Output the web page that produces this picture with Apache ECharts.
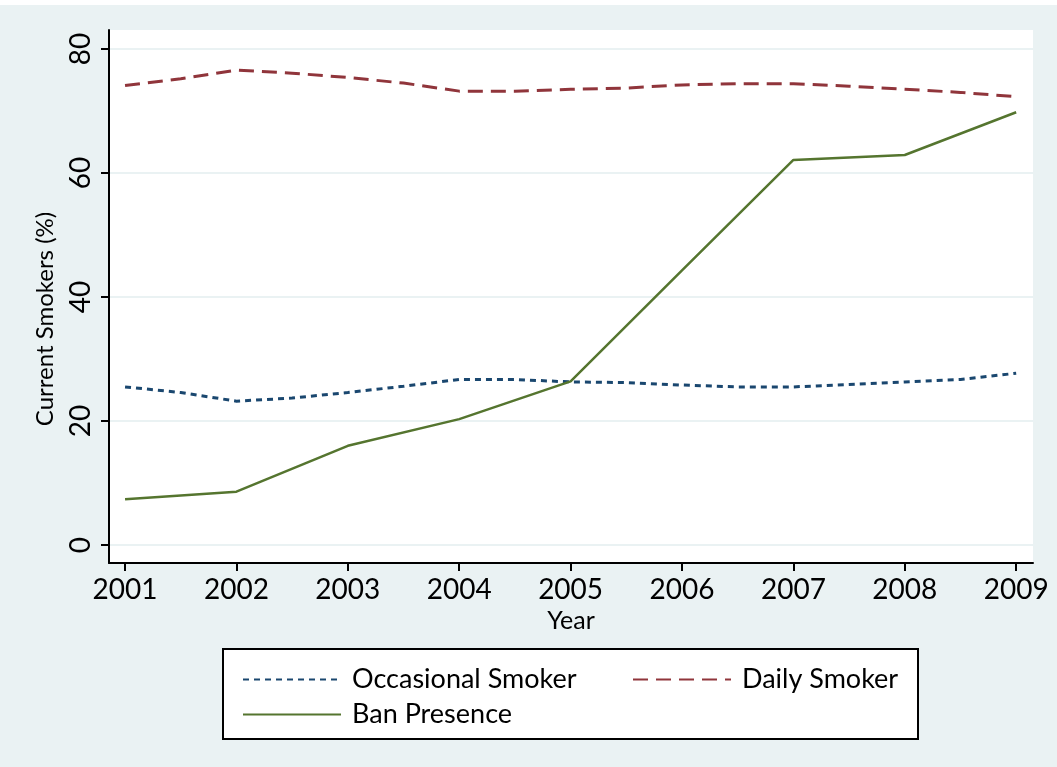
<!DOCTYPE html>
<html>
<head>
<meta charset="utf-8">
<script src="https://cdn.jsdelivr.net/npm/echarts@6/dist/echarts.min.js"></script>
<style>
  html, body { margin: 0; padding: 0; background: #EAF2F3; }
  #grafica { width: 1057px; height: 767px; }
</style>
</head>
<body>
<div id="grafica"></div>
<script>
// Datos
const years = [2001, 2002, 2003, 2004, 2005, 2006, 2007, 2008, 2009];
const halfYears = [2001, 2001.5, 2002, 2002.5, 2003, 2003.5, 2004, 2004.5, 2005,
    2005.5, 2006, 2006.5, 2007, 2007.5, 2008, 2008.5, 2009];

const occasionalSmoker = [25.5, 24.6, 23.2, 23.7, 24.6, 25.6, 26.7, 26.7, 26.3,
    26.2, 25.8, 25.5, 25.5, 25.9, 26.3, 26.7, 27.7];
const dailySmoker = [74.1, 75.2, 76.6, 76.1, 75.4, 74.5, 73.2, 73.2, 73.5,
    73.7, 74.2, 74.4, 74.4, 74.0, 73.5, 73.0, 72.3];
const banPresence = [7.4, 8.6, 16.0, 20.3, 26.4, 44.3, 62.1, 62.9, 69.8];

const yTicks = [0, 20, 40, 60, 80];

const chart = echarts.init(document.getElementById('grafica'));

const fuente = 'Lato';
const toPairs = (xs, ys) => xs.map((x, i) => [x, ys[i]]);

let option = {
    backgroundColor: '#EAF2F3',
    animation: false,
    grid: {
        left: 109,
        right: 24,
        top: 30,
        bottom: 204,
        show: true,
        backgroundColor: '#ffffff',
        borderWidth: 0
    },
    xAxis: {
        type: 'value',
        min: 2000.856,
        max: 2009.151,
        name: 'Year',
        nameLocation: 'middle',
        nameGap: 43,
        nameTextStyle: { fontFamily: fuente, fontSize: 25, color: '#000' },
        axisLine: { onZero: false, lineStyle: { color: '#000', width: 2 } },
        axisTick: { customValues: years, length: 8, lineStyle: { color: '#000', width: 2 } },
        axisLabel: {
            customValues: years,
            formatter: v => String(v),
            fontFamily: fuente, fontSize: 28, color: '#000', margin: 13
        },
        splitLine: { show: false }
    },
    yAxis: {
        type: 'value',
        min: -2.9,
        max: 83.06,
        axisLine: { show: true, onZero: false, lineStyle: { color: '#000', width: 2 } },
        axisTick: { show: true, customValues: yTicks, length: 8, lineStyle: { color: '#000', width: 2 } },
        axisLabel: {
            customValues: yTicks,
            rotate: 90,
            fontFamily: fuente, fontSize: 28, color: '#000', margin: 14
        },
        splitLine: { show: true, lineStyle: { color: '#EAF2F3', width: 2 } }
    },
    legend: [
        {
            orient: 'vertical',
            left: 237,
            top: 661,
            itemWidth: 98,
            itemHeight: 14,
            itemGap: 8,
            itemStyle: { opacity: 0 },
            textStyle: { fontFamily: fuente, fontSize: 27, color: '#000', padding: [0, 0, 0, 6] },
            data: ['Occasional Smoker', 'Ban Presence']
        },
        {
            orient: 'vertical',
            left: 627,
            top: 661,
            itemWidth: 98,
            itemHeight: 14,
            itemStyle: { opacity: 0 },
            textStyle: { fontFamily: fuente, fontSize: 27, color: '#000', padding: [0, 0, 0, 6] },
            data: ['Daily Smoker']
        }
    ],
    graphic: [
        // franja blanca superior (titulo recortado)
        { type: 'rect', left: 0, top: 0, shape: { width: 1057, height: 5 }, style: { fill: '#ffffff' }, silent: true },
        // caja de la leyenda
        {
            type: 'rect', left: 222, top: 648, z: -1,
            shape: { width: 695, height: 90 },
            style: { fill: '#ffffff', stroke: '#000', lineWidth: 2 }
        },
        {
            type: 'text', x: 45, y: 319, rotation: Math.PI / 2,
            style: {
                text: 'Current Smokers (%)', fontFamily: fuente, fontSize: 24, fill: '#000',
                align: 'center', verticalAlign: 'middle'
            }
        }
    ],
    series: [
        {
            name: 'Occasional Smoker',
            type: 'line',
            symbol: 'none',
            lineStyle: { color: '#1A476F', width: 3, type: [6, 5] },
            itemStyle: { color: '#1A476F' },
            data: toPairs(halfYears, occasionalSmoker)
        },
        {
            name: 'Daily Smoker',
            type: 'line',
            symbol: 'none',
            lineStyle: { color: '#90353B', width: 3, type: [15, 8] },
            itemStyle: { color: '#90353B' },
            data: toPairs(halfYears, dailySmoker)
        },
        {
            name: 'Ban Presence',
            type: 'line',
            symbol: 'none',
            lineStyle: { color: '#55752F', width: 2.5 },
            itemStyle: { color: '#55752F' },
            data: toPairs(years, banPresence)
        }
    ]
};

chart.setOption(option);
</script>
</body>
</html>
